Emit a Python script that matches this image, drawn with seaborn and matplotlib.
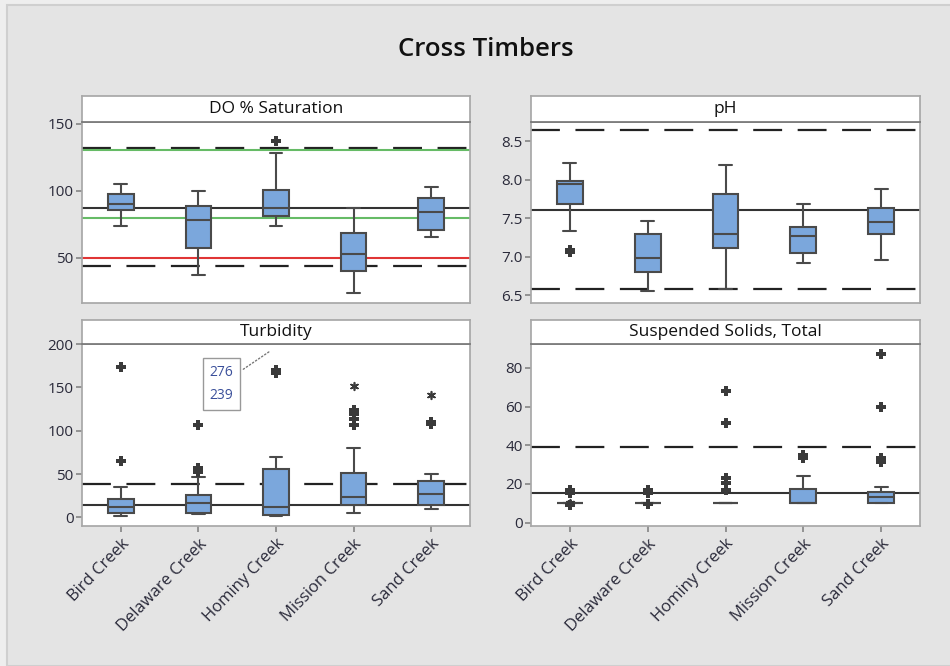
import matplotlib
matplotlib.use("Agg")
import matplotlib.pyplot as plt
import seaborn as sns
import pandas as pd
from matplotlib.patches import Rectangle

sns.set_theme(style="white")
plt.rcParams["font.family"] = ["Open Sans", "DejaVu Sans"]

creeks = ["Bird Creek", "Delaware Creek", "Hominy Creek", "Mission Creek", "Sand Creek"]

# five-number summaries: whisker low, Q1, median, Q3, whisker high
do_stats = [[73.6, 86.0, 90.4, 97.4, 105.3],
            [37.6, 57.4, 78.5, 88.5, 99.6],
            [73.6, 81.0, 87.5, 100.9, 128.2],
            [24.0, 40.6, 52.7, 68.9, 87.5],
            [65.6, 70.6, 84.2, 94.7, 102.6]]
ph_stats = [[7.33, 7.68, 7.94, 7.98, 8.22],
            [6.55, 6.80, 6.98, 7.29, 7.46],
            [6.58, 7.11, 7.29, 7.81, 8.19],
            [6.92, 7.05, 7.27, 7.38, 7.69],
            [6.96, 7.29, 7.45, 7.63, 7.88]]
turb_stats = [[2.0, 4.6, 11.9, 20.8, 35.4],
              [3.5, 4.6, 16.9, 26.2, 46.0],
              [1.5, 2.3, 11.5, 55.8, 70.0],
              [4.6, 14.2, 23.5, 51.5, 80.4],
              [9.6, 14.2, 26.5, 41.9, 49.6]]
tss_stats = [[10.3, 10.3, 10.3, 10.3, 10.3],
             [10.3, 10.3, 10.3, 10.3, 10.3],
             [10.3, 10.3, 10.3, 10.3, 10.3],
             [10.3, 10.3, 10.3, 17.2, 24.1],
             [10.3, 10.3, 13.4, 16.0, 18.6]]

# outliers (+) and extreme outliers (*)
do_out = {"Hominy Creek": [137.1]}
do_ext = {}
ph_out = {"Bird Creek": [7.09, 7.06]}
ph_ext = {}
turb_out = {"Bird Creek": [173.8, 65.0], "Delaware Creek": [106.9, 57.0, 52.0],
            "Hominy Creek": [170.0, 166.0], "Mission Creek": [124.0, 119.0, 113.0, 107.0],
            "Sand Creek": [110.0, 108.0]}
turb_ext = {"Mission Creek": [152.0], "Sand Creek": [141.0]}
tss_out = {"Bird Creek": [16.9, 15.5, 9.1], "Delaware Creek": [16.9, 15.5, 9.5],
           "Hominy Creek": [68.0, 51.3, 22.9, 20.3, 16.9], "Mission Creek": [34.9, 33.2],
           "Sand Creek": [86.9, 59.9, 33.2, 31.5]}
tss_ext = {"Bird Creek": [10.3]}

# reference lines: (value, style, colour)
do_lines = [(132.1, "dash", "#222222"), (130.6, "solid", "#66bb66"), (87.2, "solid", "#333333"),
            (79.8, "solid", "#66bb66"), (50.0, "solid", "#e03535"), (44.0, "dash", "#222222")]
ph_lines = [(8.652, "dash", "#222222"), (7.611, "solid", "#333333"), (6.583, "dash", "#222222")]
turb_lines = [(38.1, "dash", "#222222"), (14.2, "solid", "#333333")]
tss_lines = [(39.2, "dash", "#222222"), (15.5, "solid", "#333333")]

panels = [
    ("DO % Saturation", do_stats, do_out, do_ext, do_lines, (16.5, 151.2), [50, 100, 150], None),
    ("pH", ph_stats, ph_out, ph_ext, ph_lines, (6.396, 8.75), [6.5, 7.0, 7.5, 8.0, 8.5], "%.1f"),
    ("Turbidity", turb_stats, turb_out, turb_ext, turb_lines, (-10, 200), [0, 50, 100, 150, 200], None),
    ("Suspended Solids, Total", tss_stats, tss_out, tss_ext, tss_lines, (-1.7, 92.3), [0, 20, 40, 60, 80], None),
]

W, H = 950, 666
fig = plt.figure(figsize=(9.5, 6.66), dpi=100)
fig.patch.set_facecolor("#eeeeee")
fig.patches.append(Rectangle((7 / W, 0), 1, 1 - 5 / H, transform=fig.transFigure,
                             facecolor="#e4e4e4", edgecolor="#cfcfcf", lw=1.5, zorder=-10))

fig.text(486 / W, 1 - 49 / H, "Cross Timbers", ha="center", va="center",
         fontsize=18.5, fontweight="semibold", color="#111111")

# pixel boxes for data area (left, right, top, bottom) and header height
boxes = [(82, 470, 122, 303, 26), (531, 920, 122, 303, 26),
         (82, 470, 344, 526, 24), (531, 920, 344, 526, 24)]

box_color = "#7ba7dc"
edge = "#4a4a4a"
tick_color = "#2a2a3a"

for i, (title, stats, outs, exts, lines, ylim, yticks, fmt) in enumerate(panels):
    l, r, t, b, hh = boxes[i]
    ax = fig.add_axes([l / W, 1 - b / H, (r - l) / W, (b - t) / H])
    hdr = fig.add_axes([l / W, 1 - t / H, (r - l) / W, hh / H])
    hdr.set_xticks([])
    hdr.set_yticks([])
    hdr.set_facecolor("white")
    for s in hdr.spines.values():
        s.set_color("#a8a8a8")
    hdr.spines["bottom"].set_color("#777777")
    hdr.text(0.5, 0.5, title, ha="center", va="center", fontsize=12.5, color="#111111")

    rows = [(c, v) for c, st in zip(creeks, stats) for v in st]
    df = pd.DataFrame(rows, columns=["creek", "value"])
    sns.boxplot(data=df, x="creek", y="value", order=creeks, whis=(0, 100), showfliers=False,
                width=0.33, color=box_color, saturation=1, linecolor=edge, linewidth=1.5, ax=ax, zorder=3)

    po = pd.DataFrame([(c, v) for c, vs in outs.items() for v in vs], columns=["creek", "value"])
    if len(po):
        sns.stripplot(data=po, x="creek", y="value", order=creeks, jitter=False, marker="P",
                      size=6.5, color="#3a3a3a", linewidth=0, ax=ax, zorder=4)
    pe = pd.DataFrame([(c, v) for c, vs in exts.items() for v in vs], columns=["creek", "value"])
    if len(pe):
        sns.stripplot(data=pe, x="creek", y="value", order=creeks, jitter=False, marker=(6, 2, 0),
                      size=5.5, color="#3a3a3a", edgecolor="#3a3a3a", linewidth=1.2, ax=ax, zorder=4)

    for val, style, col in lines:
        if style == "dash":
            ax.axhline(val, color=col, lw=1.6, dashes=(13, 7), zorder=2)
        else:
            ax.axhline(val, color=col, lw=1.5, zorder=2)

    ax.set_xlim(-0.5, 4.5)
    ax.set_ylim(*ylim)
    ax.set_yticks(yticks)
    if fmt:
        ax.set_yticklabels([fmt % v for v in yticks])
    ax.set_xlabel("")
    ax.set_ylabel("")
    ax.set_facecolor("white")
    for s in ax.spines.values():
        s.set_color("#a8a8a8")
    ax.tick_params(axis="y", left=True, length=4, color="#888888", labelsize=11,
                   labelcolor=tick_color, pad=2)
    if i >= 2:
        ax.tick_params(axis="x", bottom=True, length=4, color="#888888", labelsize=12,
                       labelcolor=tick_color, pad=3)
        plt.setp(ax.get_xticklabels(), rotation=46, ha="right", rotation_mode="anchor")
    else:
        ax.set_xticklabels([])
        ax.tick_params(axis="x", bottom=False)

    if title == "Turbidity":
        ax.annotate("276\n239", xy=(1.96, 194), xytext=(1.3, 154), ha="center", va="center",
                    fontsize=10, color="#3a4f9a", linespacing=1.75,
                    bbox=dict(boxstyle="square,pad=0.5", fc="white", ec="#999999", lw=1),
                    arrowprops=dict(arrowstyle="-", ls=":", color="#777777", lw=1), zorder=5)

fig.savefig("out.png", dpi=100, facecolor=fig.get_facecolor())
